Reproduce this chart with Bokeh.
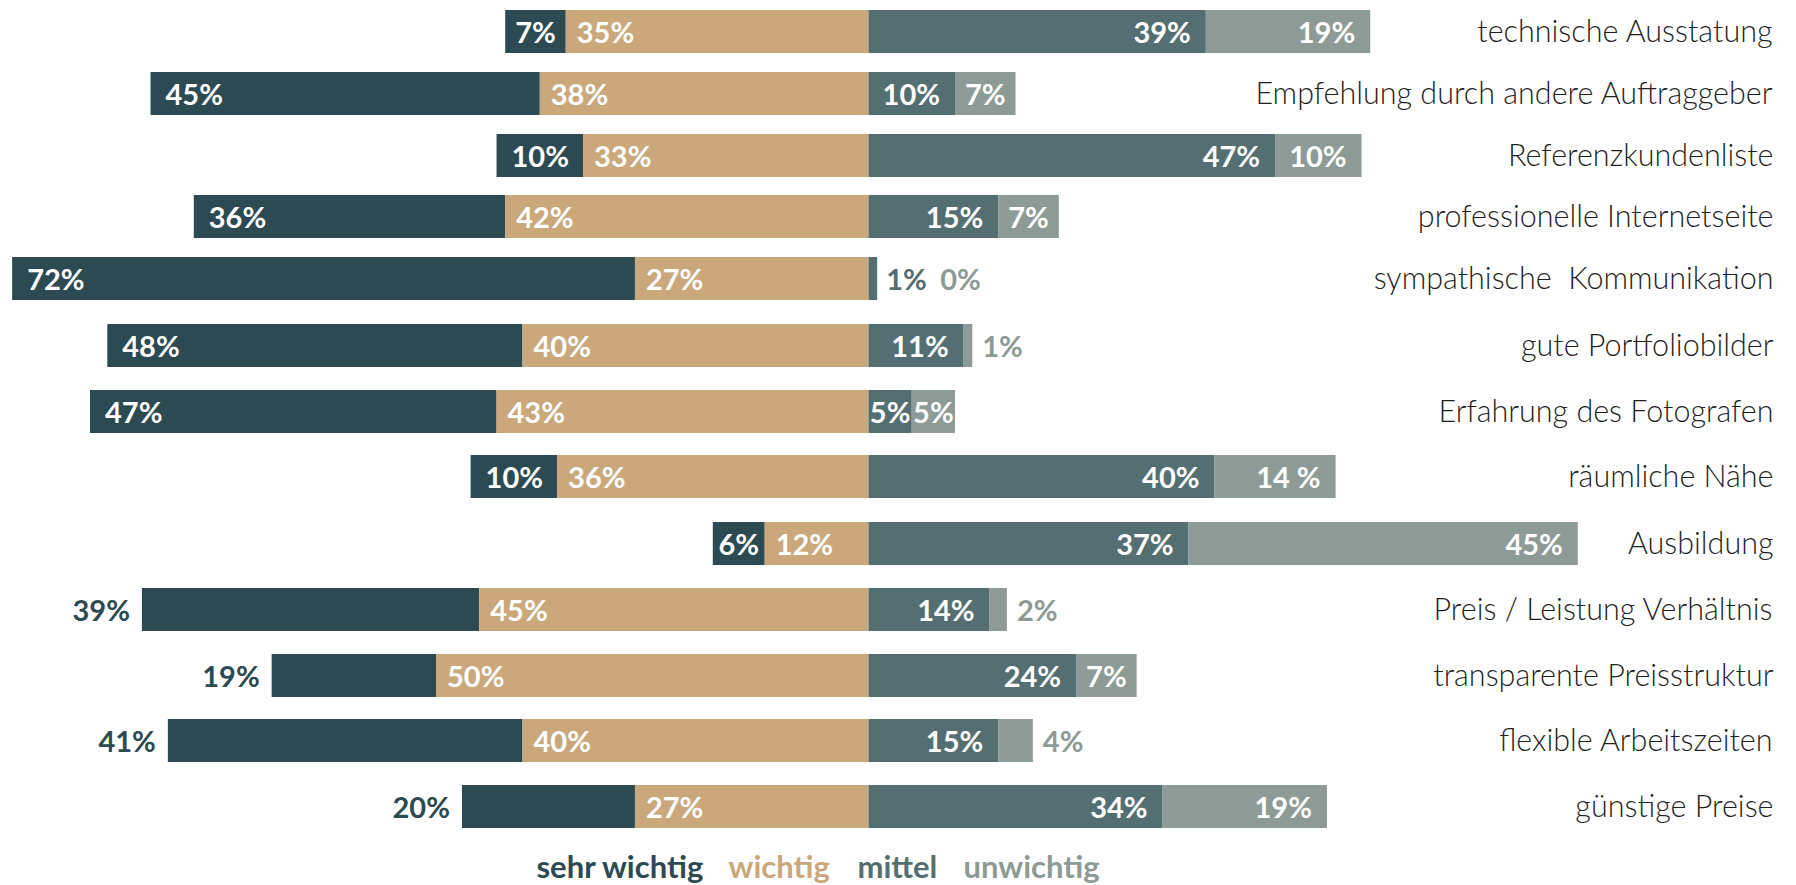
from bokeh.plotting import figure
from bokeh.models import Range1d, ColumnDataSource
from bokeh.core.properties import value
from bokeh.embed import file_html
from bokeh.resources import INLINE

# ---------------- data ----------------
categories = [
    "technische Ausstatung",
    "Empfehlung durch andere Auftraggeber",
    "Referenzkundenliste",
    "professionelle Internetseite",
    "sympathische\u00a0 Kommunikation",
    "gute Portfoliobilder",
    "Erfahrung des Fotografen",
    "räumliche Nähe",
    "Ausbildung",
    "Preis / Leistung Verhältnis",
    "transparente Preisstruktur",
    "flexible Arbeitszeiten",
    "günstige Preise",
]
sehr_wichtig = [7, 45, 10, 36, 72, 48, 47, 10, 6, 39, 19, 41, 20]
wichtig = [35, 38, 33, 42, 27, 40, 43, 36, 12, 45, 50, 40, 27]
mittel = [39, 10, 47, 15, 1, 11, 5, 40, 37, 14, 24, 15, 34]
unwichtig = [19, 7, 10, 7, 0, 1, 5, 14, 45, 2, 7, 4, 19]
series_names = ["sehr wichtig", "wichtig", "mittel", "unwichtig"]
# label text as printed in the source (one label written with a space)
label_overrides = {("unwichtig", 7): "14 %"}

# ---------------- style / layout ----------------
C_SEHR = "#2c4a52"
C_WICHTIG = "#caa87c"
C_MITTEL = "#546f71"
C_UNW = "#8e9a95"
C_TEXT = "#1f1f1f"
colors = [C_SEHR, C_WICHTIG, C_MITTEL, C_UNW]

W, H = 1796, 885
CENTER_PX = 868
PX_PER_PCT = 8.65
# vertical centre of each row, in screen pixels from the top (layout only)
ROW_PX = [31, 93, 155, 216, 278, 345, 411, 476, 543, 609, 675, 740, 806]
BAR_H = 43

PCT_FONT = value("Lato")
PCT_SIZE = "29px"
CAT_FONT = value("Lato Light")
CAT_SIZE = "30.5px"

n = len(categories)
rows = ROW_PX

x_start = -CENTER_PX / PX_PER_PCT
x_end = (W - CENTER_PX) / PX_PER_PCT

p = figure(width=W, height=H, output_backend="svg", toolbar_location=None,
           x_range=Range1d(x_start, x_end), y_range=Range1d(H, 0),
           min_border=0, min_border_left=0, min_border_right=0,
           min_border_top=0, min_border_bottom=0)
p.axis.visible = False
p.grid.visible = False
p.outline_line_color = None
p.background_fill_color = "white"
p.border_fill_color = "white"

# ---------------- bars ----------------
lefts = [
    [-(s + w) for s, w in zip(sehr_wichtig, wichtig)],
    [-w for w in wichtig],
    [0 for _ in mittel],
    [m for m in mittel],
]
rights = [
    [-w for w in wichtig],
    [0 for _ in wichtig],
    [m for m in mittel],
    [m + u for m, u in zip(mittel, unwichtig)],
]
for k in range(4):
    src = ColumnDataSource(dict(y=rows, left=lefts[k], right=rights[k]))
    p.hbar(y="y", left="left", right="right", height=BAR_H, source=src,
           fill_color=colors[k], line_color=None)

# ---------------- labels ----------------
lab = dict(x=[], y=[], text=[], color=[], align=[], xoff=[])


def add(x, y, text, color, align, xoff):
    lab["x"].append(x)
    lab["y"].append(y)
    lab["text"].append(text)
    lab["color"].append(color)
    lab["align"].append(align)
    lab["xoff"].append(xoff)


def txt(series, i, v):
    return label_overrides.get((series, i), f"{v}%")


OUTSIDE_ROWS_FROM = 9  # last rows show the "sehr wichtig" label outside the bar
for i in range(n):
    y = rows[i]
    s, w, m, u = sehr_wichtig[i], wichtig[i], mittel[i], unwichtig[i]
    # sehr wichtig
    if i >= OUTSIDE_ROWS_FROM:
        add(-(s + w), y, txt("sehr wichtig", i, s), C_SEHR, "right", -12)
    elif s < 9:
        add(-(w + s / 2), y, txt("sehr wichtig", i, s), "white", "center", 0)
    else:
        add(-(s + w), y, txt("sehr wichtig", i, s), "white", "left", 15)
    # wichtig
    add(-w, y, txt("wichtig", i, w), "white", "left", 11)
    # mittel
    m_out = m < 5
    if m_out:
        add(m, y, txt("mittel", i, m), C_MITTEL, "left", 9)
    elif m < 9:
        add(m / 2, y, txt("mittel", i, m), "white", "center", 0)
    else:
        add(m, y, txt("mittel", i, m), "white", "right", -15)
    # unwichtig
    if u < 5:
        add(m + u, y, txt("unwichtig", i, u), C_UNW, "left", 63 if m_out else 10)
    elif u < 9:
        add(m + u / 2, y, txt("unwichtig", i, u), "white", "center", 0)
    else:
        add(m + u, y, txt("unwichtig", i, u), "white", "right", -15)

for align in ("left", "center", "right"):
    idx = [j for j, a in enumerate(lab["align"]) if a == align]
    src = ColumnDataSource(dict(
        x=[lab["x"][j] for j in idx], y=[lab["y"][j] for j in idx],
        text=[lab["text"][j] for j in idx], color=[lab["color"][j] for j in idx],
        xoff=[lab["xoff"][j] for j in idx]))
    p.text(x="x", y="y", text="text", source=src, text_color="color",
           x_offset="xoff", y_offset=0,
           text_align=align, text_baseline="middle",
           text_font=PCT_FONT, text_font_size=PCT_SIZE, text_font_style="bold")

# category labels on the right
CAT_X = (1773 - CENTER_PX) / PX_PER_PCT
cat_src = ColumnDataSource(dict(x=[CAT_X] * n, y=rows, text=categories))
p.text(x="x", y="y", text="text", source=cat_src, text_color=C_TEXT,
       text_align="right", text_baseline="middle", y_offset=-2,
       text_font=CAT_FONT, text_font_size=CAT_SIZE)

# legend as coloured words at the bottom
legend_px = [536, 728, 857, 963]
LEG_Y = 865
leg_src = ColumnDataSource(dict(
    x=[(px - CENTER_PX) / PX_PER_PCT for px in legend_px],
    y=[LEG_Y] * 4, text=series_names, color=colors))
p.text(x="x", y="y", text="text", source=leg_src, text_color="color",
       text_align="left", text_baseline="middle",
       text_font=value("Lato"), text_font_size="31px", text_font_style="bold")

open("out.html", "w").write(file_html(p, INLINE))
